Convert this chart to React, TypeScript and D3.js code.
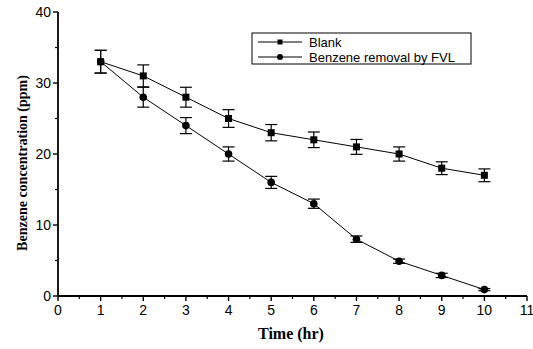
import React from "react";
import * as d3 from "d3";

const times = [1, 2, 3, 4, 5, 6, 7, 8, 9, 10];
const blank = [33, 31, 28, 25, 23, 22, 21, 20, 18, 17];
const blankErr = [1.6, 1.55, 1.4, 1.25, 1.15, 1.1, 1.05, 1.0, 0.9, 0.9];
const fvl = [33, 28, 24, 20, 16, 13, 8, 4.9, 2.9, 0.9];
const fvlErr = [1.6, 1.4, 1.13, 1.0, 0.85, 0.65, 0.45, 0.3, 0.3, 0.15];
const xTicks = [0, 1, 2, 3, 4, 5, 6, 7, 8, 9, 10, 11];
const yTicks = [0, 10, 20, 30, 40];
const seriesNames = ["Blank", "Benzene removal by FVL"];

export default function App() {
  const W = 533, H = 349;
  const x = d3.scaleLinear().domain([0, 11]).range([58, 527]);
  const y = d3.scaleLinear().domain([0, 40]).range([296, 12]);
  const line = d3.line<number>().x((_, i) => x(times[i])).y((d) => y(d));
  const xMinor = d3.range(0.5, 11, 1);
  const yMinor = [5, 15, 25, 35];
  const tickFont = "Arial, 'Liberation Sans', sans-serif";
  const titleFont = "'Times New Roman', 'Liberation Serif', serif";

  const errBars = (vals: number[], errs: number[], key: string) =>
    vals.map((v, i) => {
      const cx = x(times[i]);
      const y1 = y(v + errs[i]);
      const y2 = y(v - errs[i]);
      return (
        <g key={key + i} stroke="#000" strokeWidth={1.2}>
          <line x1={cx} x2={cx} y1={y1} y2={y2} />
          <line x1={cx - 6} x2={cx + 6} y1={y1} y2={y1} />
          <line x1={cx - 6} x2={cx + 6} y1={y2} y2={y2} />
        </g>
      );
    });

  return (
    <svg width={W} height={H} style={{ position: "absolute", left: 0, top: 0, background: "#fff" }}>
      <rect width={W} height={H} fill="#fff" />
      {/* axes */}
      <line x1={x(0)} x2={x(11)} y1={y(0)} y2={y(0)} stroke="#000" strokeWidth={1.8} />
      <line x1={x(0)} x2={x(0)} y1={y(0)} y2={y(40)} stroke="#000" strokeWidth={1.8} />
      {xTicks.map((t) => (
        <g key={"xt" + t}>
          <line x1={x(t)} x2={x(t)} y1={y(0)} y2={y(0) + 5} stroke="#000" strokeWidth={1.4} />
          <text x={x(t)} y={y(0) + 19} textAnchor="middle" fontFamily={tickFont} fontSize={14}>
            {t}
          </text>
        </g>
      ))}
      {xMinor.map((t) => (
        <line key={"xm" + t} x1={x(t)} x2={x(t)} y1={y(0)} y2={y(0) + 3} stroke="#000" strokeWidth={1.2} />
      ))}
      {yTicks.map((t) => (
        <g key={"yt" + t}>
          <line x1={x(0) - 5} x2={x(0)} y1={y(t)} y2={y(t)} stroke="#000" strokeWidth={1.4} />
          <text x={x(0) - 7} y={y(t) + 5} textAnchor="end" fontFamily={tickFont} fontSize={14}>
            {t}
          </text>
        </g>
      ))}
      {yMinor.map((t) => (
        <line key={"ym" + t} x1={x(0) - 3} x2={x(0)} y1={y(t)} y2={y(t)} stroke="#000" strokeWidth={1.2} />
      ))}
      {/* titles */}
      <text x={291} y={339} textAnchor="middle" fontFamily={titleFont} fontWeight="bold" fontSize={16}>
        Time (hr)
      </text>
      <text
        transform={`translate(27,163) rotate(-90)`}
        textAnchor="middle"
        fontFamily={titleFont}
        fontWeight="bold"
        fontSize={14}
      >
        Benzene concentration (ppm)
      </text>
      {/* error bars */}
      {errBars(blank, blankErr, "be")}
      {errBars(fvl, fvlErr, "fe")}
      {/* lines */}
      <path d={line(blank) || ""} fill="none" stroke="#000" strokeWidth={1} />
      <path d={line(fvl) || ""} fill="none" stroke="#000" strokeWidth={1} />
      {/* markers */}
      {blank.map((v, i) => (
        <rect key={"bm" + i} x={x(times[i]) - 3.5} y={y(v) - 3.5} width={7} height={7} fill="#000" />
      ))}
      {fvl.map((v, i) => (
        <circle key={"fm" + i} cx={x(times[i])} cy={y(v)} r={3.8} fill="#000" />
      ))}
      {/* legend */}
      <rect x={252} y={33} width={219} height={31} fill="#fff" stroke="#000" strokeWidth={1} />
      <line x1={258} x2={302} y1={42} y2={42} stroke="#000" strokeWidth={1} />
      <rect x={277.5} y={39.5} width={5} height={5} fill="#000" />
      <text x={309} y={47} fontFamily={tickFont} fontSize={13}>
        {seriesNames[0]}
      </text>
      <line x1={258} x2={302} y1={57} y2={57} stroke="#000" strokeWidth={1} />
      <circle cx={280} cy={57} r={3} fill="#000" />
      <text x={309} y={62} fontFamily={tickFont} fontSize={13}>
        {seriesNames[1]}
      </text>
    </svg>
  );
}
